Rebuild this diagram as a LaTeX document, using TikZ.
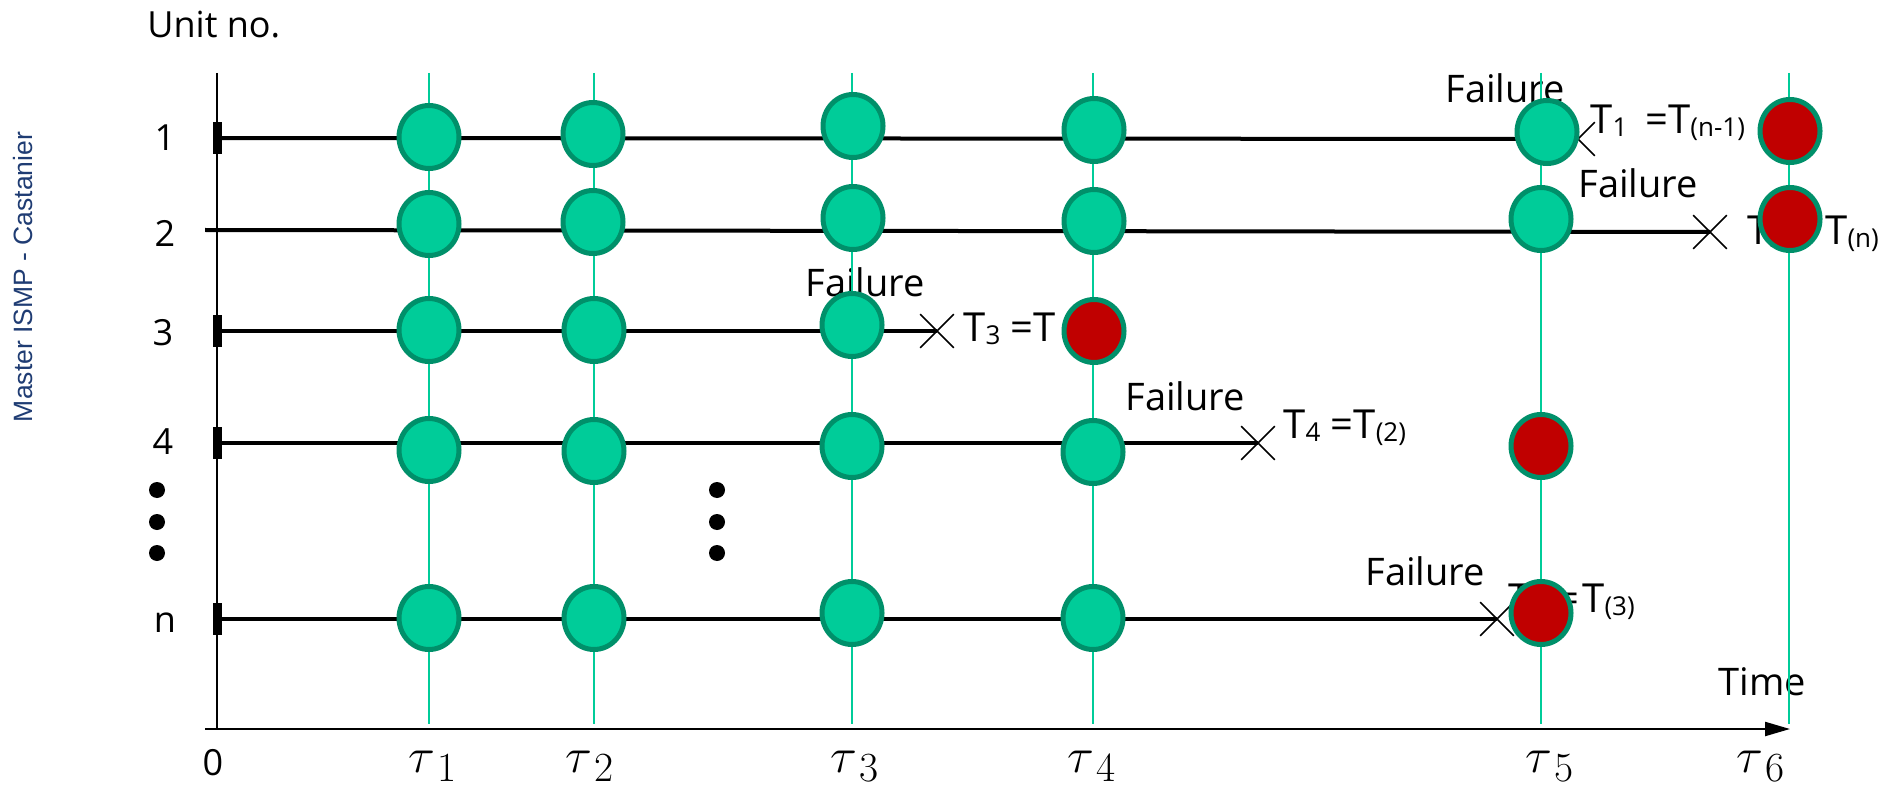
\documentclass[tikz,border=0pt]{standalone}
\usepackage{fontspec}
\setmainfont{Open Sans}
\newfontfamily\sidefont{Liberation Sans}
\usetikzlibrary{shapes.geometric,shapes.misc,arrows.meta}
\definecolor{gfill}{HTML}{00CC99}
\definecolor{gedge}{HTML}{00906A}
\definecolor{rfill}{HTML}{C00000}
\definecolor{glinec}{HTML}{00CC99}
\definecolor{sideblue}{HTML}{1F3C73}
\newcommand{\lsub}[1]{\raisebox{-1.5pt}{\fontsize{13}{13}\selectfont #1}}
\newcommand{\taulab}[1]{{\fontsize{35}{37}\selectfont$\tau$}\kern1pt\raisebox{-4.5pt}{\fontsize{22}{22}\selectfont$#1$}}
\begin{document}
\begin{tikzpicture}[x=0.5pt,y=-0.5pt,
  gnode/.style={ellipse, draw=gedge, line width=2.5pt, fill=gfill, minimum width=30pt, minimum height=31.5pt, inner sep=0pt},
  rnode/.style={gnode, fill=rfill},
  tauline/.style={draw=glinec, line width=1pt},
  unitline/.style={line width=2pt},
  axisline/.style={line width=1.1pt},
  crossmark/.style={cross out, draw, line width=0.8pt, minimum size=16pt, inner sep=0pt},
  lbl/.style={font=\fontsize{19}{21}\selectfont, inner sep=0pt, anchor=base west},
  ulbl/.style={font=\fontsize{18}{20}\selectfont, inner sep=0pt, anchor=base west},
  numlbl/.style={font=\fontsize{18}{20}\selectfont, inner sep=0pt, anchor=base},
  tlbl/.style={font=\fontsize{20}{22}\selectfont, inner sep=0pt, anchor=base west},
  taulbl/.style={inner sep=0pt, anchor=base west},
  dotmark/.style={circle, fill=black, inner sep=0pt, minimum size=8pt},
  tickbar/.style={rectangle, fill=black, inner sep=0pt, minimum width=4.5pt, minimum height=16pt},
]
\useasboundingbox (0,0) rectangle (1895,791);

% side text
\node[rotate=90, inner sep=0pt, font=\sidefont\fontsize{13.25}{14}\selectfont, text=sideblue] (side) at (23,277) {Master ISMP - Castanier};

% axis texts
\node[ulbl] (unitno) at (147,38) {Unit no.};
\node[numlbl] (n1) at (165,151) {1};
\node[numlbl] (n2) at (165,247) {2};
\node[numlbl] (n3) at (163,345) {3};
\node[numlbl] (n4) at (163,454) {4};
\node[numlbl] (nn) at (165,632) {n};
\node[numlbl] (zero) at (213,775) {0};
\node[lbl] (time) at (1718,695) {Time};

% tau labels
\node[taulbl] (L1) at (408,772) {\taulab{1}};
\node[taulbl] (L2) at (565,772) {\taulab{2}};
\node[taulbl] (L3) at (830,772) {\taulab{3}};
\node[taulbl] (L4) at (1067,772) {\taulab{4}};
\node[taulbl] (L5) at (1525,772) {\taulab{5}};
\node[taulbl] (L6) at (1736,772) {\taulab{6}};

% failure labels
\node[lbl] (f1) at (1445,103) {Failure};
\node[lbl] (f2) at (1578,198) {Failure};
\node[lbl] (f3) at (805,297) {Failure};
\node[lbl] (f4) at (1125,410) {Failure};
\node[lbl] (fn) at (1365,585) {Failure};

% T labels
\node[tlbl] (T1) at (1590,134) {T\lsub{1}\hspace{0.45em}=T\lsub{(n-1)}};
\node[tlbl] (T2a) at (1747,245) {T\lsub{2} =};
\node[tlbl] (T2b) at (1825,245) {T\lsub{(n)}};
\node[tlbl] (T3) at (963,342) {T\lsub{3} =T\kern4pt\lsub{(1)}};
\node[tlbl] (T4) at (1283,438) {T\lsub{4} =T\lsub{(2)}};
\node[tlbl] (Tna) at (1508,612) {T\lsub{n} =};
\node[tlbl] (Tnb) at (1582,612) {T\lsub{(3)}};

% dots
\node[dotmark] (da1) at (157,490) {};
\node[dotmark] (da2) at (157,522) {};
\node[dotmark] (da3) at (157,553) {};
\node[dotmark] (db1) at (717,490) {};
\node[dotmark] (db2) at (717,522) {};
\node[dotmark] (db3) at (717,553) {};

% tau lines
\foreach \i/\x in {1/429,2/594,3/852,4/1093,5/1541,6/1789}{
  \coordinate (tt\i) at (\x,73);
  \coordinate (tb\i) at (\x,724);
  \draw[tauline] (tt\i) -- (tb\i);
}

% axes
\coordinate (ytop) at (217,73);
\coordinate (ybot) at (217,729);
\coordinate (xl) at (205,729);
\coordinate (xr) at (1790,729);
\draw[axisline] (ytop) -- (ybot);
\draw[axisline, -{Triangle[length=12.5pt,width=7pt]}] (xl) -- (xr);

% row starts
\node[tickbar] (s1) at (217,138) {};
\coordinate (s2) at (205,230);
\node[tickbar] (s3) at (217,331) {};
\node[tickbar] (s4) at (217,443) {};
\node[tickbar] (sn) at (217,619) {};

% crosses
\node[crossmark] (x1) at (1578,139) {};
\node[crossmark] (x2) at (1710,232) {};
\node[crossmark] (x3) at (937,331) {};
\node[crossmark] (x4) at (1258,443) {};
\node[crossmark] (xn) at (1497,619) {};

% row lines
\draw[unitline] (s1.center) -- (x1.center);
\draw[unitline] (s2) -- (x2.center);
\draw[unitline] (s3.center) -- (x3.center);
\draw[unitline] (s4.center) -- (x4.center);
\draw[unitline] (sn.center) -- (xn.center);

% circles row 1
\node[gnode] (c11) at (429,137) {};
\node[gnode] (c12) at (593,134) {};
\node[gnode] (c13) at (853,126) {};
\node[gnode] (c14) at (1094,130) {};
\node[gnode] (c15) at (1547,132) {};
\node[rnode] (c16) at (1790,131) {};
% row 2
\node[gnode] (c21) at (429,224) {};
\node[gnode] (c22) at (593,222) {};
\node[gnode] (c23) at (853,218) {};
\node[gnode] (c24) at (1094,221) {};
\node[gnode] (c25) at (1541,219) {};
\node[rnode] (c26) at (1790,219) {};
% row 3
\node[gnode] (c31) at (429,330) {};
\node[gnode] (c32) at (594,330) {};
\node[gnode] (c33) at (852,325) {};
\node[rnode] (c34) at (1094,331) {};
% row 4
\node[gnode] (c41) at (429,450) {};
\node[gnode] (c42) at (594,451) {};
\node[gnode] (c43) at (852,446) {};
\node[gnode] (c44) at (1093,452) {};
\node[rnode] (c45) at (1541,446) {};
% row n
\node[gnode] (cn1) at (429,618) {};
\node[gnode] (cn2) at (594,618) {};
\node[gnode] (cn3) at (852,613) {};
\node[gnode] (cn4) at (1093,618) {};
\node[rnode] (cn5) at (1541,613) {};
\end{tikzpicture}
\end{document}
